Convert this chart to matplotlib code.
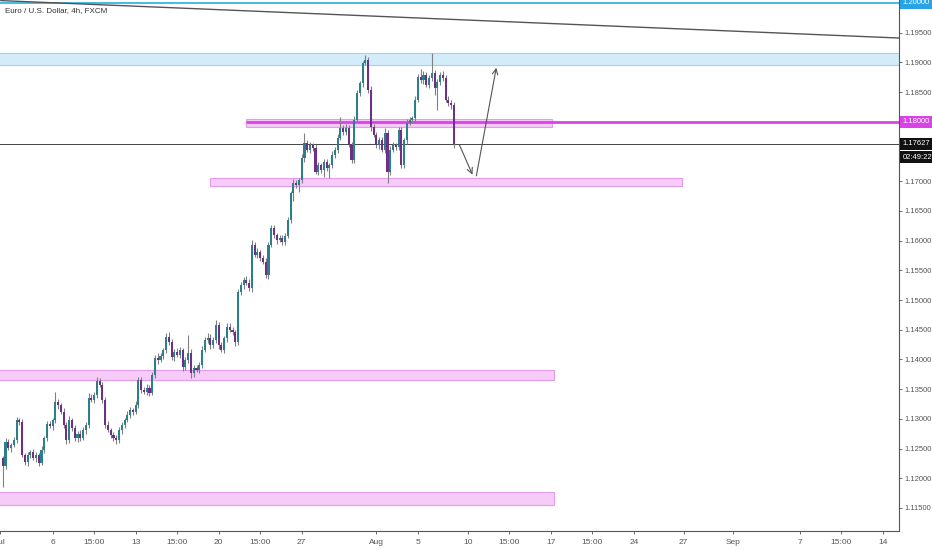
"""EUR/USD 4h chart, TradingView style with zones and arrows"""
import numpy as np
import matplotlib
matplotlib.use("Agg")
import matplotlib.pyplot as plt
from matplotlib.patches import Rectangle
import matplotlib.transforms as mtransforms

plt.rcParams['font.family'] = ['Liberation Sans Narrow', 'Liberation Sans', 'DejaVu Sans']

first_open = 1.1234
closes = [
    1.1221, 1.1261, 1.1251, 1.1256, 1.1264, 1.1298, 1.1295, 1.1239, 1.1227, 1.1239,
    1.1244, 1.1234, 1.1239, 1.1226, 1.1248, 1.1268, 1.1291, 1.1288, 1.1298, 1.1328,
    1.1323, 1.1312, 1.1290, 1.1264, 1.1298, 1.1285, 1.1268, 1.1275, 1.1268, 1.1281,
    1.1290, 1.1335, 1.1332, 1.1340, 1.1364, 1.1357, 1.1332, 1.1290, 1.1281, 1.1273,
    1.1268, 1.1264, 1.1281, 1.1290, 1.1298, 1.1307, 1.1315, 1.1312, 1.1323, 1.1365,
    1.1349, 1.1345, 1.1352, 1.1344, 1.1374, 1.1402, 1.1399, 1.1406, 1.1416, 1.1438,
    1.1429, 1.1404, 1.1413, 1.1408, 1.1416, 1.1387, 1.1399, 1.1411, 1.1377, 1.1386,
    1.1382, 1.1391, 1.1416, 1.1433, 1.1436, 1.1424, 1.1433, 1.1458, 1.1424, 1.1416,
    1.1436, 1.1455, 1.1450, 1.1446, 1.1429, 1.1514, 1.1525, 1.1534, 1.1529, 1.1520,
    1.1593, 1.1576, 1.1581, 1.1571, 1.1564, 1.1542, 1.1593, 1.1621, 1.1609, 1.1601,
    1.1604, 1.1598, 1.1608, 1.1635, 1.1680, 1.1697, 1.1694, 1.1702, 1.1739, 1.1764,
    1.1753, 1.1761, 1.1756, 1.1716, 1.1727, 1.1719, 1.1732, 1.1722, 1.1727, 1.1744,
    1.1753, 1.1773, 1.1790, 1.1783, 1.1790, 1.1761, 1.1736, 1.1803, 1.1849, 1.1865,
    1.1899, 1.1904, 1.1854, 1.1791, 1.1778, 1.1761, 1.1769, 1.1753, 1.1781, 1.1716,
    1.1753, 1.1761, 1.1758, 1.1786, 1.1727, 1.1769, 1.1798, 1.1803, 1.1806, 1.1837,
    1.1875, 1.1870, 1.1879, 1.1862, 1.1874, 1.1882, 1.1857, 1.1867, 1.1879, 1.1874,
    1.1837, 1.1832, 1.1828, 1.17627,
]
# wick lengths in pips above / below the body
upper_pips = [
    4, 6, 5, 4, 5, 5, 3, 4, 3, 5, 4, 6, 5, 4, 6, 3, 5, 6, 4, 17,
    5, 4, 6, 5, 7, 4, 5, 4, 6, 5, 4, 8, 6, 5, 6, 4, 5, 4, 6, 3,
    5, 4, 6, 5, 4, 6, 5, 4, 7, 6, 5, 4, 6, 5, 4, 6, 8, 5, 4, 6,
    9, 5, 4, 6, 5, 4, 5, 30, 6, 4, 5, 4, 6, 5, 8, 6, 4, 9, 5, 6,
    4, 7, 6, 5, 4, 4, 6, 5, 7, 6, 8, 5, 6, 4, 5, 6, 4, 5, 6, 4,
    5, 6, 4, 5, 4, 6, 5, 4, 6, 17, 6, 5, 4, 6, 5, 4, 6, 5, 4, 6,
    5, 6, 18, 5, 6, 4, 5, 6, 5, 4, 4, 9, 5, 6, 5, 4, 6, 5, 8, 5,
    6, 5, 4, 6, 5, 4, 6, 5, 4, 6, 5, 14, 6, 5, 4, 34, 6, 5, 4, 6,
    5, 6, 4, 5,
]
lower_pips = [
    36, 5, 4, 6, 4, 5, 6, 4, 5, 6, 5, 4, 6, 5, 4, 6, 5, 4, 6, 5,
    6, 4, 5, 6, 4, 5, 6, 7, 5, 4, 6, 5, 4, 6, 5, 4, 6, 5, 4, 6,
    5, 7, 4, 6, 5, 4, 6, 5, 4, 5, 6, 4, 5, 6, 4, 5, 6, 4, 5, 6,
    4, 5, 6, 4, 5, 6, 4, 5, 8, 6, 4, 5, 6, 4, 5, 6, 4, 5, 6, 4,
    5, 6, 4, 5, 6, 4, 5, 6, 4, 5, 6, 4, 5, 6, 4, 5, 6, 4, 5, 6,
    4, 5, 6, 4, 5, 14, 6, 12, 5, 6, 4, 5, 6, 4, 5, 6, 12, 5, 16, 4,
    5, 6, 4, 5, 6, 4, 5, 6, 4, 5, 6, 4, 5, 6, 4, 5, 6, 4, 5, 19,
    6, 4, 5, 6, 4, 5, 6, 4, 5, 6, 4, 5, 6, 4, 5, 6, 12, 37, 5, 6,
    4, 5, 6, 7,
]

# x axis in 4h bars (6 per trading day), weekends skipped
tick_pos = [-1, 18, 33, 48, 63, 78, 93, 108, 135, 150, 168, 183, 198, 213, 228, 246, 264, 288, 303, 318]
tick_lab = ['Jul', '6', '15:00', '13', '15:00', '20', '15:00', '27', 'Aug', '5',
            '10', '15:00', '17', '15:00', '24', '27', 'Sep', '7', '15:00', '14']
price_ticks = [1.115, 1.120, 1.125, 1.130, 1.135, 1.140, 1.145, 1.150, 1.155,
               1.160, 1.165, 1.170, 1.175, 1.180, 1.185, 1.190, 1.195, 1.200]
hidden_ticks = [1.175, 1.180, 1.200]   # covered by the price badges

last_price = 1.17627
resistance = 1.18000
round_level = 1.20000
# zones: (x start, x end, low, high)
blue_zone = (-5, 330, 1.18956, 1.19158)
pink_zones = [
    (88, 198.6, 1.17912, 1.18047),
    (74.7, 245.5, 1.16919, 1.17054),
    (-5, 199.3, 1.13654, 1.13822),
    (-5, 199.3, 1.11550, 1.11769),
]
trend = ([-0.7, 323.8], [1.2004, 1.1941])
arrow_down = ((165, 1.1761), (169.7, 1.1711))
arrow_up = ((171.1, 1.1709), (178.3, 1.1891))

closes = np.array(closes)
opens = np.concatenate([[first_open], closes[:-1]])
highs = np.maximum(opens, closes) + np.array(upper_pips) * 1e-4
lows = np.minimum(opens, closes) - np.array(lower_pips) * 1e-4
idx = np.arange(len(closes))
up = closes >= opens

fig = plt.figure(figsize=(9.32, 5.5), dpi=100)
ax = fig.add_axes([0, 19 / 550, 899 / 932, 531 / 550])
ax.set_xlim(-0.72, 323.8)
ax.set_ylim(1.11112, 1.2005)

# zones
ax.add_patch(Rectangle((blue_zone[0], blue_zone[2]), blue_zone[1] - blue_zone[0],
                       blue_zone[3] - blue_zone[2], facecolor='#d3ecf9',
                       edgecolor='#9fd3ee', lw=0.8, zorder=1))
for x0, x1, lo, hi in pink_zones:
    ax.add_patch(Rectangle((x0, lo), x1 - x0, hi - lo, facecolor='#f6cbf8',
                           edgecolor='#e39ced', lw=0.8, zorder=1))

# horizontal levels
ax.axhline(round_level, color='#27aee0', lw=1.2, zorder=2)
ax.hlines(resistance, 88, 323.8, color='#d943e6', lw=2, zorder=2)
ax.axhline(last_price, color='#444444', lw=0.7, zorder=2)
ax.plot(trend[0], trend[1], color='#555555', lw=1, zorder=2)

# candles
ax.vlines(idx, lows, highs, color='#808080', lw=0.8, zorder=3)
body_lo = np.minimum(opens, closes)
body_h = np.maximum(np.abs(closes - opens), 0.00005)
ax.bar(idx[up], body_h[up], bottom=body_lo[up], width=0.75, color='#2a7f8a', zorder=4)
ax.bar(idx[~up], body_h[~up], bottom=body_lo[~up], width=0.75, color='#6e2f86', zorder=4)

# projection arrows
for (x0, y0), (x1, y1) in [arrow_down, arrow_up]:
    ax.annotate('', xy=(x1, y1), xytext=(x0, y0),
                arrowprops=dict(arrowstyle='->', color='#555555', lw=0.8,
                                shrinkA=0, shrinkB=0), zorder=5)

# axes styling
for s in ['top', 'left']:
    ax.spines[s].set_visible(False)
ax.spines['right'].set_color('#555555')
ax.spines['bottom'].set_color('#555555')
ax.spines['right'].set_linewidth(0.8)
ax.spines['bottom'].set_linewidth(0.8)
ax.yaxis.tick_right()
ax.set_yticks(price_ticks)
ax.set_yticklabels(['' if p in hidden_ticks else f'{p:.5f}' for p in price_ticks])
ax.set_xticks(tick_pos)
ax.set_xticklabels(tick_lab)
ax.tick_params(axis='both', colors='#555555', length=2.5, width=0.6)
ax.tick_params(axis='y', labelcolor='#555555', labelsize=5.5, pad=1.5)
ax.tick_params(axis='x', labelcolor='#555555', labelsize=6, pad=3)

# price badges on the scale
trans = mtransforms.blended_transform_factory(ax.transAxes, ax.transData)
badges = [(round_level, '1.20000', '#2aa3e6'),
          (resistance, '1.18000', '#d943e6'),
          (last_price, '1.17627', '#111111')]
for y, txt, col in badges:
    ax.text(1.004, y, txt, transform=trans, fontsize=5.5, color='white', va='center',
            ha='left', clip_on=False, zorder=10,
            bbox=dict(boxstyle='square,pad=0.3', facecolor=col, edgecolor='none'))
ax.text(1.004, last_price - 0.0022, '02:49:22', transform=trans, fontsize=5.5,
        color='white', va='center', ha='left', clip_on=False, zorder=10,
        bbox=dict(boxstyle='square,pad=0.3', facecolor='#111111', edgecolor='none'))

fig.text(0.005, 1 - 11 / 550, 'Euro / U.S. Dollar, 4h, FXCM', fontsize=5.8,
         color='#333333', va='center', ha='left')

fig.savefig('out.png', dpi=100)
